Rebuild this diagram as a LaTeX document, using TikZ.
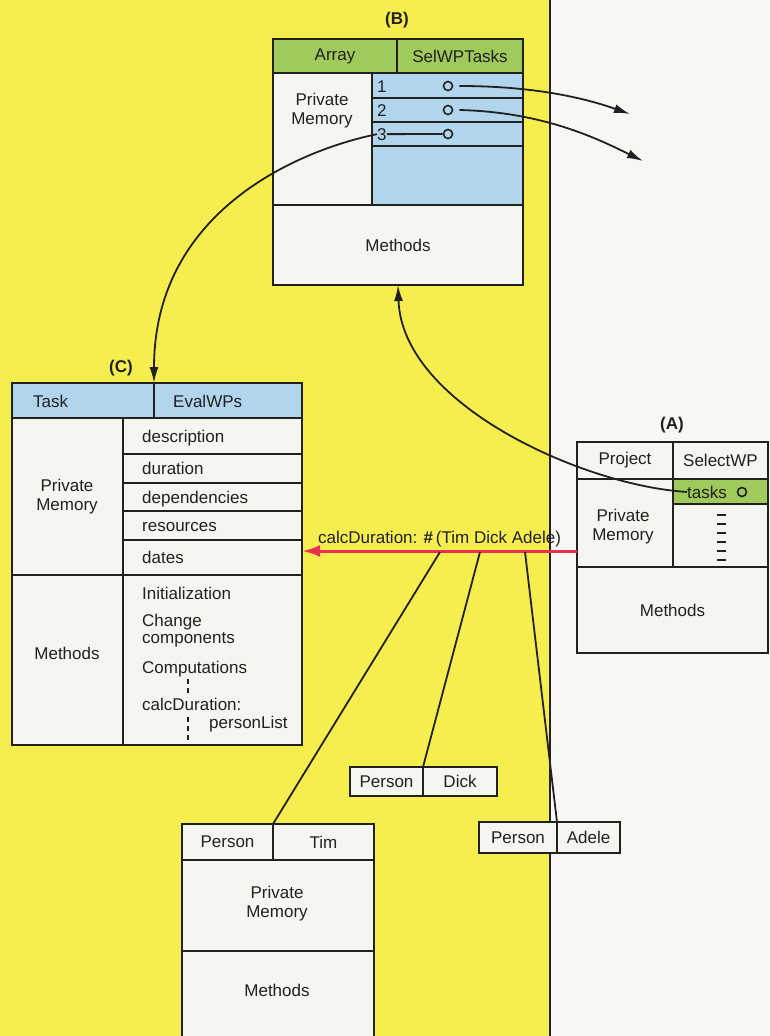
\documentclass[tikz,border=0pt]{standalone}
\usepackage{fontspec}
\setmainfont{Liberation Sans}
\usetikzlibrary{arrows.meta,calc}
\definecolor{yel}{RGB}{245,238,78}
\definecolor{pap}{RGB}{248,247,243}
\definecolor{boxw}{RGB}{246,246,241}
\definecolor{blu}{RGB}{176,213,236}
\definecolor{grn}{RGB}{160,202,92}
\definecolor{redl}{RGB}{233,48,78}
\definecolor{ink}{RGB}{35,32,32}
\newcommand\mycell[6]{\node[cell,fill=#6,minimum width=#4pt,minimum height=#5pt] (#1) at (#2,#3) {};}
\begin{document}
\begin{tikzpicture}[x=1pt,y=-1pt,
  cell/.style={draw=ink,line width=2pt,anchor=north west,inner sep=0pt,outer sep=0pt},
  lbl/.style={inner sep=0pt,font=\fontsize{17}{19}\selectfont,text=ink,align=center},
  tag/.style={inner sep=0pt,font=\fontsize{17}{19}\selectfont\bfseries,text=ink},
  circ/.style={circle,draw=ink,line width=1.6pt,minimum size=9pt,inner sep=0pt},
  conn/.style={draw=ink,line width=1.8pt},
  arr/.style={conn,-{Latex[length=16pt,width=9pt]}},
  dsh/.style={draw=ink,line width=1.2pt,dash pattern=on 5pt off 4pt},
  tick/.style={draw=ink,line width=1.3pt}]
\clip (0,0) rectangle (770,1036);
\fill[pap] (0,0) rectangle (770,1036);
\fill[yel] (0,0) rectangle (550,1036);
\draw[ink,line width=2pt] (550,0) -- (550,1036);

% ---------- Box B ----------
\node[tag] (labB) at (397,20) {(B)};
\mycell{bH1}{273}{39}{124}{34}{grn}
\mycell{bH2}{397}{39}{126}{34}{grn}
\mycell{bPM}{273}{73}{99}{132}{boxw}
\mycell{bR1}{372}{73}{151}{25}{blu}
\mycell{bR2}{372}{98}{151}{24}{blu}
\mycell{bR3}{372}{122}{151}{24}{blu}
\mycell{bR4}{372}{146}{151}{59}{blu}
\mycell{bM}{273}{205}{250}{80}{boxw}
\node[lbl] (bH1t) at (bH1) {Array};
\node[lbl] (bH2t) at (bH2) {SelWPTasks};
\node[lbl] (bPMt) at (322,111) {Private\\Memory};
\node[lbl] (bMt) at (bM) {Methods};
\node[lbl,anchor=base west] (b1n) at (377,92) {1};
\node[lbl,anchor=base west] (b2n) at (377,116) {2};
\node[lbl,anchor=base west] (b3n) at (377,140) {3};
\node[circ] (b1c) at (448,86) {};
\node[circ] (b2c) at (448,110) {};
\node[circ] (b3c) at (448,134) {};
\coordinate (b1end) at (630,114);
\coordinate (b2end) at (643,161);

% ---------- Box C ----------
\node[tag] (labC) at (121,368) {(C)};
\mycell{cH1}{12}{383}{142}{35}{blu}
\mycell{cH2}{154}{383}{148}{35}{blu}
\mycell{cPM}{12}{418}{111}{157}{boxw}
\mycell{cR1}{123}{418}{179}{36}{boxw}
\mycell{cR2}{123}{454}{179}{29}{boxw}
\mycell{cR3}{123}{483}{179}{28}{boxw}
\mycell{cR4}{123}{511}{179}{29}{boxw}
\mycell{cR5}{123}{540}{179}{35}{boxw}
\mycell{cML}{12}{575}{111}{170}{boxw}
\mycell{cMR}{123}{575}{179}{170}{boxw}
\node[lbl,anchor=base west] (cH1t) at (33,407) {Task};
\node[lbl,anchor=base west] (cH2t) at (173,407) {EvalWPs};
\node[lbl] (cPMt) at (67,497) {Private\\Memory};
\node[lbl] (cMt) at (67,653) {Methods};
\node[lbl,anchor=base west] (cR1t) at (142,442) {description};
\node[lbl,anchor=base west] (cR2t) at (142,474) {duration};
\node[lbl,anchor=base west] (cR3t) at (142,503) {dependencies};
\node[lbl,anchor=base west] (cR4t) at (142,531) {resources};
\node[lbl,anchor=base west] (cR5t) at (142,563) {dates};
\node[lbl,anchor=base west] (cM1) at (142,599) {Initialization};
\node[lbl,anchor=base west] (cM2) at (142,626) {Change};
\node[lbl,anchor=base west] (cM3) at (142,643) {components};
\node[lbl,anchor=base west] (cM4) at (142,673) {Computations};
\node[lbl,anchor=base west] (cM5) at (142,710) {calcDuration:};
\node[lbl,anchor=base west] (cM6) at (209,728) {personList};
\draw[dsh] (188,679) -- (188,697);
\draw[dsh] (188,717) -- (188,745);

% ---------- Box A ----------
\node[tag] (labA) at (672,425) {(A)};
\mycell{aH1}{577}{442}{96}{37}{boxw}
\mycell{aH2}{673}{442}{95}{37}{boxw}
\mycell{aPM}{577}{479}{96}{88}{boxw}
\mycell{aT}{673}{479}{95}{25}{grn}
\mycell{aR}{673}{504}{95}{63}{boxw}
\mycell{aM}{577}{567}{191}{86}{boxw}
\node[lbl] (aH1t) at (aH1) {Project};
\node[lbl] (aH2t) at (aH2) {SelectWP};
\node[lbl] (aPMt) at (623,527) {Private\\Memory};
\node[lbl] (aMt) at (aM) {Methods};
\node[lbl,anchor=base west] (tasks) at (687,498) {tasks};
\node[circ] (aTc) at (742,492) {};
\foreach \yy in {515,524,533,542,551,560}{\draw[tick] (717,\yy) -- (726,\yy);}

% ---------- Person boxes ----------
\mycell{dH1}{350}{767}{73}{29}{boxw}
\mycell{dH2}{423}{767}{74}{29}{boxw}
\node[lbl] (dH1t) at (dH1) {Person};
\node[lbl] (dH2t) at (dH2) {Dick};
\mycell{eH1}{479}{822}{78}{31}{boxw}
\mycell{eH2}{557}{822}{63}{31}{boxw}
\node[lbl] (eH1t) at (eH1) {Person};
\node[lbl] (eH2t) at (eH2) {Adele};
\mycell{tH1}{182}{824}{91}{36}{boxw}
\mycell{tH2}{273}{824}{101}{36}{boxw}
\mycell{tPM}{182}{860}{192}{91}{boxw}
\mycell{tM}{182}{951}{192}{100}{boxw}
\node[lbl] (tH1t) at (tH1) {Person};
\node[lbl] (tH2t) at (tH2) {Tim};
\node[lbl] (tPMt) at (277,904) {Private\\Memory};
\node[lbl] (tMt) at (277,990) {Methods};

% ---------- Connectors ----------
\draw[conn] (b3n.east) -- (b3c.west);
\draw[arr] ([xshift=6pt]b1c.east) .. controls (540,86) and (590,100) .. (b1end);
\draw[arr] ([xshift=6pt]b2c.east) .. controls (545,112) and (600,140) .. (b2end);
\draw[arr] (b3n.west) .. controls (300,150) and (154,210) .. (cH2.north west);
\draw[arr] (tasks.west) .. controls (585,486) and (402,405) .. (bM.south);

\coordinate (redstart) at (577,551);
\draw[redl,line width=3pt,-{Latex[length=18pt,width=12pt]}] (redstart) -- (redstart -| cR5.east);
\node[lbl,anchor=base west] (redlbl) at (318,543) {calcDuration: {\bfseries\#}\,(Tim Dick Adele)};
\coordinate (tapTim) at (440,552);
\coordinate (tapDick) at (480,552);
\coordinate (tapAd) at (525,552);
\draw[conn] (tapTim) -- (tH1.north east);
\draw[conn] (tapDick) -- (dH1.north east);
\draw[conn] (tapAd) -- (eH1.north east);
\end{tikzpicture}
\end{document}
